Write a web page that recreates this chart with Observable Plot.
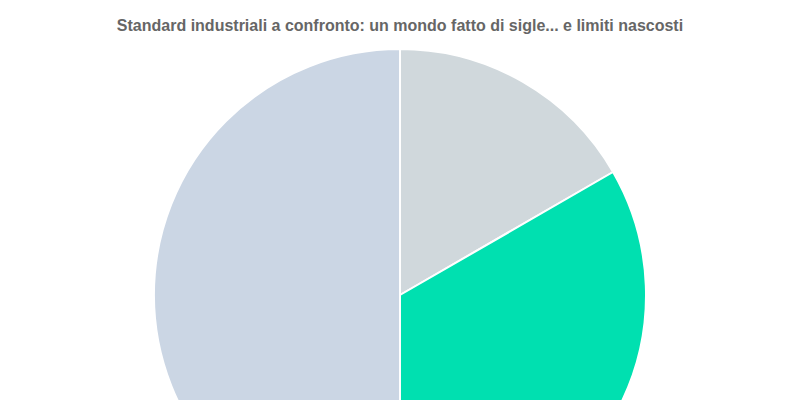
<!DOCTYPE html>
<html>
<head>
<meta charset="utf-8">
<script src="https://cdn.jsdelivr.net/npm/d3@7"></script>
<script src="https://cdn.jsdelivr.net/npm/@observablehq/plot@0.6"></script>
<style>
  html, body { margin: 0; padding: 0; background: #fff; overflow: hidden; width: 800px; height: 400px; }
  #title { font-family: "Liberation Sans", Arial, sans-serif; font-weight: bold; font-size: 16px; color: #666; text-align: center; height: 20px; line-height: 20px; padding-top: 16px; }
</style>
</head>
<body>
<div id="title">Standard industriali a confronto: un mondo fatto di sigle... e limiti nascosti</div>
<div id="chart"></div>
<script>
const categories = ["Standard A", "Standard B", "Standard C"];
const values = [1, 2, 3];
const colors = ["#d0d8dc", "#00e0b0", "#cbd6e4"];

const data = categories.map((c, i) => ({category: c, value: values[i]}));
const R = 246;
const arcs = d3.pie().sort(null).value(d => d.value)(data);

const chart = Plot.plot({
  width: 800,
  height: 520,
  margin: 0,
  marginTop: 13,
  x: {axis: null},
  y: {axis: null},
  color: {domain: categories, range: colors},
  marks: [
    Plot.dot(arcs, {
      x: () => 0,
      y: () => 0,
      fill: d => d.data.category,
      render: (index, scales, vals, dims) => {
        const g = d3.create("svg:g")
          .attr("transform", `translate(${dims.width / 2},${dims.marginTop + R})`);
        const arc = d3.arc().innerRadius(0).outerRadius(R);
        for (const i of index) {
          g.append("path")
            .attr("d", arc(arcs[i]))
            .attr("fill", vals.fill[i])
            .attr("stroke", "#fff")
            .attr("stroke-width", 2)
            .attr("stroke-linejoin", "round");
        }
        return g.node();
      }
    })
  ]
});
document.getElementById("chart").appendChild(chart);
</script>
</body>
</html>
